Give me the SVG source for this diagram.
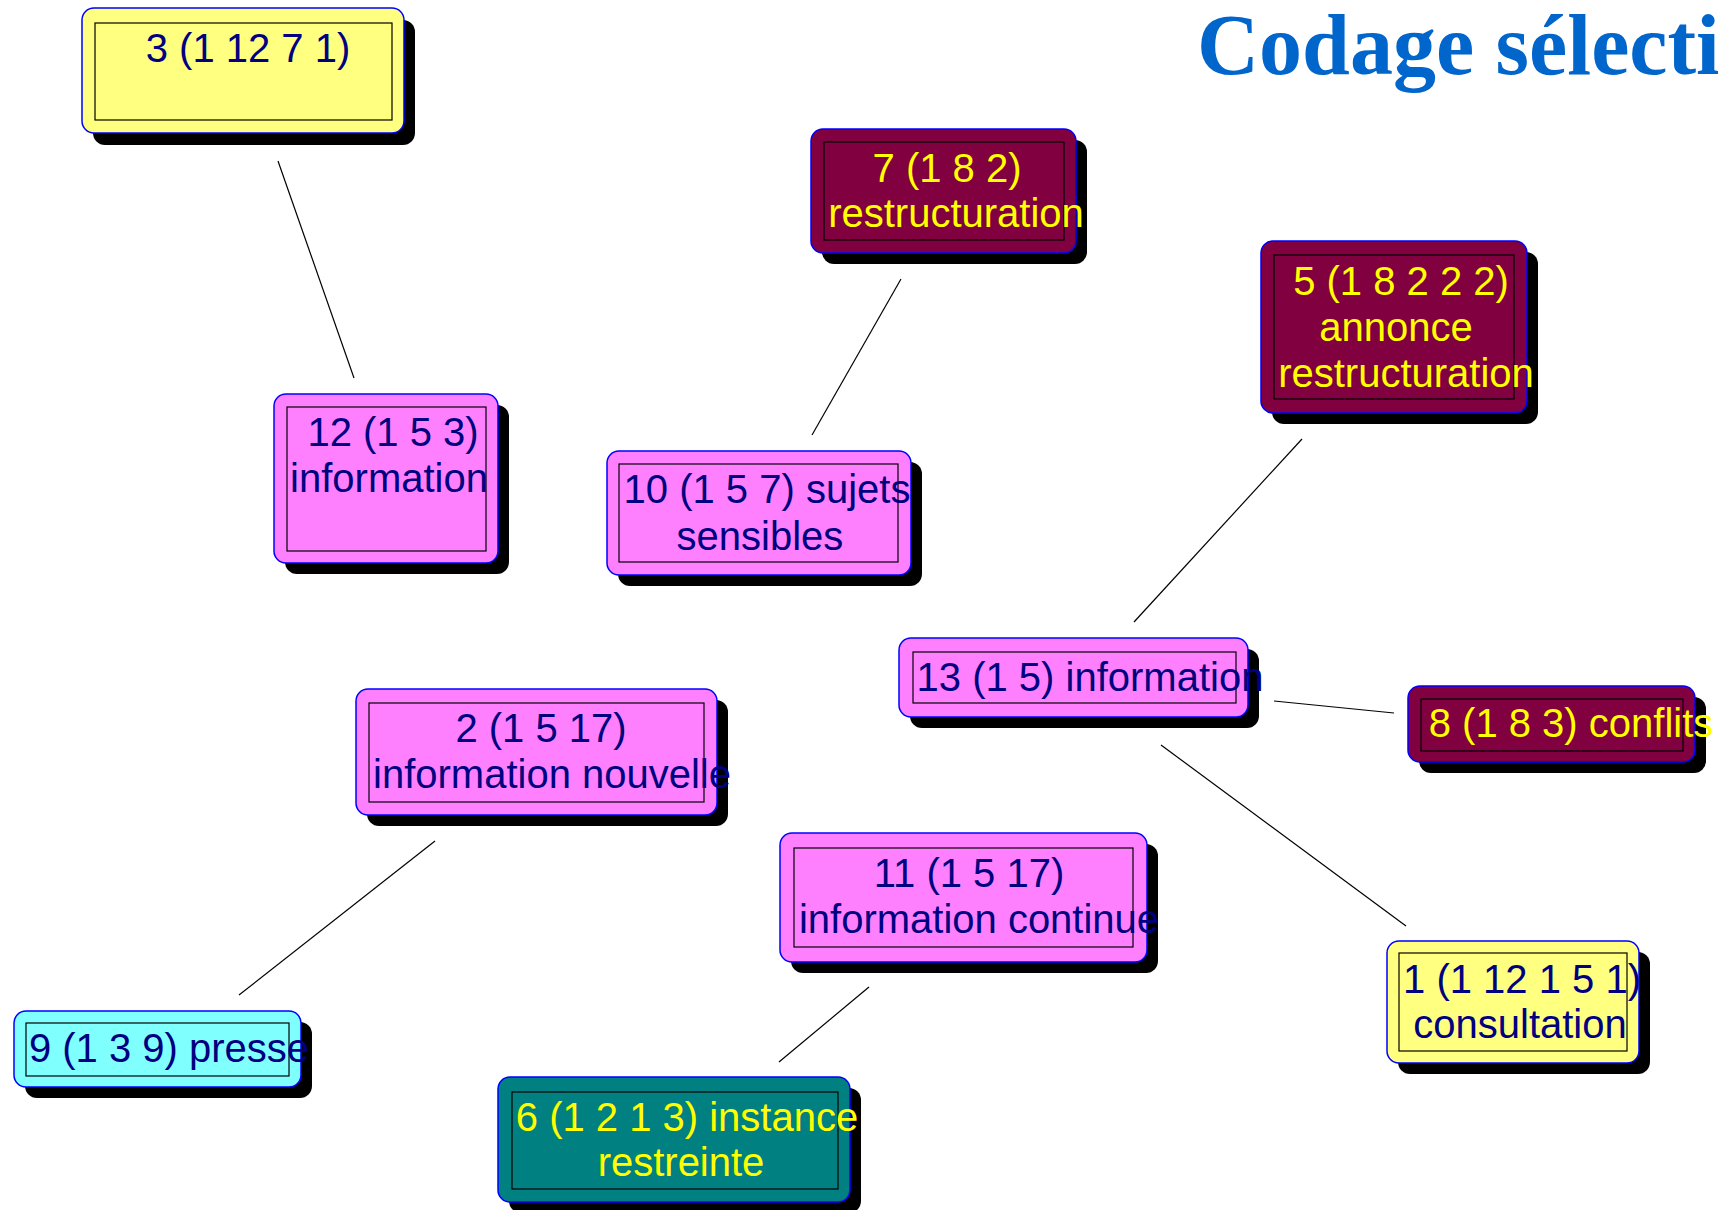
<svg xmlns="http://www.w3.org/2000/svg" width="1718" height="1210" viewBox="0 0 1718 1210">
<style>
.sh{fill:#000}
.box{stroke:#0000FF;stroke-width:1.5}
.in{fill:none;stroke:#000;stroke-width:1.2}
.yl{fill:#FFFF80}.pk{fill:#FF80FF}.cy{fill:#80FFFF}.mr{fill:#800040}.tl{fill:#008080}
text{font-family:"Liberation Sans",Arial,sans-serif;font-size:40px;text-anchor:middle}
.dk{fill:#000080}.lt{fill:#FFFF00}
.ln{stroke:#000;stroke-width:1.2;fill:none}
.title{font-family:"Liberation Serif","Times New Roman",serif;font-weight:bold;font-size:86px;fill:#0066CC;text-anchor:start}
</style>
<rect width="1718" height="1210" fill="#fff"/>
<text class="title" x="1197" y="74">Codage sélecti</text>
<g id="connectors">
<line class="ln" x1="278" y1="161" x2="354" y2="378"/>
<line class="ln" x1="901" y1="279" x2="812" y2="435"/>
<line class="ln" x1="1302" y1="439" x2="1134" y2="622"/>
<line class="ln" x1="1274" y1="701" x2="1394" y2="713"/>
<line class="ln" x1="1161" y1="745" x2="1406" y2="926"/>
<line class="ln" x1="435" y1="841" x2="239" y2="995"/>
<line class="ln" x1="869" y1="987" x2="779" y2="1062"/>
</g>
<g id="n3">
<rect class="sh" x="93" y="20" width="322" height="125" rx="12"/>
<rect class="box yl" x="82" y="8" width="322" height="125" rx="12"/>
<rect class="in" x="95" y="23" width="297" height="97"/>
<text class="dk" x="248" y="62">3 (1 12 7 1)</text>
</g>
<g id="n7">
<rect class="sh" x="822" y="140" width="265" height="124" rx="12"/>
<rect class="box mr" x="811" y="129" width="265" height="124" rx="12"/>
<rect class="in" x="824" y="142" width="240" height="98"/>
<text class="lt" x="947" y="182">7 (1 8 2)</text>
<text class="lt" x="956" y="227">restructuration</text>
</g>
<g id="n5">
<rect class="sh" x="1272" y="252" width="266" height="172" rx="12"/>
<rect class="box mr" x="1261" y="241" width="266" height="172" rx="12"/>
<rect class="in" x="1274" y="255" width="240" height="144"/>
<text class="lt" x="1401" y="295">5 (1 8 2 2 2)</text>
<text class="lt" x="1396" y="341">annonce</text>
<text class="lt" x="1406" y="387">restructuration</text>
</g>
<g id="n12">
<rect class="sh" x="285" y="405" width="224" height="169" rx="12"/>
<rect class="box pk" x="274" y="394" width="224" height="169" rx="12"/>
<rect class="in" x="287" y="407" width="199" height="144"/>
<text class="dk" x="393" y="446">12 (1 5 3)</text>
<text class="dk" x="389" y="492">information</text>
</g>
<g id="n10">
<rect class="sh" x="618" y="462" width="304" height="124" rx="12"/>
<rect class="box pk" x="607" y="451" width="304" height="124" rx="12"/>
<rect class="in" x="619" y="464" width="279" height="98"/>
<text class="dk" x="767" y="503">10 (1 5 7) sujets</text>
<text class="dk" x="760" y="550">sensibles</text>
</g>
<g id="n13">
<rect class="sh" x="910" y="649" width="349" height="79" rx="12"/>
<rect class="box pk" x="899" y="638" width="349" height="79" rx="12"/>
<rect class="in" x="913" y="652" width="323" height="51"/>
<text class="dk" x="1090" y="691">13 (1 5) information</text>
</g>
<g id="n8">
<rect class="sh" x="1419" y="697" width="287" height="76" rx="12"/>
<rect class="box mr" x="1408" y="686" width="287" height="76" rx="12"/>
<rect class="in" x="1421" y="699" width="262" height="52"/>
<text class="lt" x="1571" y="737">8 (1 8 3) conflits</text>
</g>
<g id="n2">
<rect class="sh" x="367" y="700" width="361" height="126" rx="12"/>
<rect class="box pk" x="356" y="689" width="361" height="126" rx="12"/>
<rect class="in" x="369" y="703" width="335" height="99"/>
<text class="dk" x="541" y="742">2 (1 5 17)</text>
<text class="dk" x="552" y="788">information nouvelle</text>
</g>
<g id="n11">
<rect class="sh" x="791" y="844" width="367" height="129" rx="12"/>
<rect class="box pk" x="780" y="833" width="367" height="129" rx="12"/>
<rect class="in" x="794" y="848" width="339" height="99"/>
<text class="dk" x="969" y="887">11 (1 5 17)</text>
<text class="dk" x="979" y="933">information continue</text>
</g>
<g id="n1">
<rect class="sh" x="1398" y="952" width="252" height="122" rx="12"/>
<rect class="box yl" x="1387" y="941" width="252" height="122" rx="12"/>
<rect class="in" x="1399" y="953" width="228" height="98"/>
<text class="dk" x="1522" y="993">1 (1 12 1 5 1)</text>
<text class="dk" x="1520" y="1038">consultation</text>
</g>
<g id="n9">
<rect class="sh" x="25" y="1022" width="287" height="76" rx="12"/>
<rect class="box cy" x="14" y="1011" width="287" height="76" rx="12"/>
<rect class="in" x="26" y="1023" width="263" height="53"/>
<text class="dk" x="169" y="1062">9 (1 3 9) presse</text>
</g>
<g id="n6">
<rect class="sh" x="509" y="1088" width="352" height="125" rx="12"/>
<rect class="box tl" x="498" y="1077" width="352" height="125" rx="12"/>
<rect class="in" x="512" y="1092" width="326" height="97"/>
<text class="lt" x="687" y="1131">6 (1 2 1 3) instance</text>
<text class="lt" x="681" y="1176">restreinte</text>
</g>
</svg>
